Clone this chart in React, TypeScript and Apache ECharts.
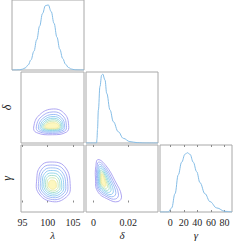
import React, { useEffect, useRef } from 'react';
import * as echarts from 'echarts';

// ---- axis ranges & tick labels ----
const lambdaRange = [94.7, 107.2];
const deltaRange = [-0.0043, 0.037];
const gammaRange = [-15, 91];
const lambdaTicks = [95, 100, 105];
const deltaTicks = [0, 0.02];
const gammaTicks = [0, 20, 40, 60, 80];
const axisNames = ['λ', 'δ', 'γ'];

// ---- 1D marginal densities (normalised) ----
const lamX = [94.7, 95.5, 96, 96.5, 97, 97.5, 98, 98.5, 99, 99.5, 100, 100.5, 101, 101.5, 102, 102.5, 103, 103.5, 104, 104.5, 105, 105.5, 106, 107.2];
const lamY = [0, 0.001, 0.004, 0.012, 0.032, 0.075, 0.155, 0.284, 0.462, 0.669, 0.859, 0.979, 0.99, 0.89, 0.71, 0.5, 0.316, 0.176, 0.087, 0.038, 0.015, 0.005, 0.0015, 0];
const delX = [-0.0043, 0.0009, 0.0018, 0.002, 0.0023, 0.0028, 0.0037, 0.0047, 0.0053, 0.0066, 0.0076, 0.0095, 0.0114, 0.0142, 0.0171, 0.0209, 0.025, 0.0295, 0.037];
const delY = [0, 0, 0, 0.06, 0.2, 0.48, 0.82, 0.986, 1.0, 0.913, 0.72, 0.478, 0.309, 0.164, 0.068, 0.02, 0.005, 0, 0];
const gamX = [-15, -2.8, 2.2, 7.1, 11.9, 16.9, 21.8, 25.2, 29.2, 34.0, 39.0, 43.9, 51.2, 58.6, 68.5, 80.7, 91];
const gamY = [0, 0, 0.069, 0.308, 0.627, 0.84, 0.973, 1.0, 0.973, 0.84, 0.68, 0.494, 0.308, 0.175, 0.069, 0.011, 0];

// ---- 2D contour rings (outer -> inner) ----
const lambdaDeltaRings = [
  [[104.16, 0.0058], [103.38, 0.0126], [101.12, 0.0155], [98.35, 0.012], [97.22, 0.005], [97.74, 0.0018], [100.95, 0.0005], [103.73, 0.0021]],
  [[103.71, 0.0057], [103.04, 0.0114], [101.1, 0.0138], [98.71, 0.0109], [97.74, 0.0051], [98.19, 0.0024], [100.95, 0.0013], [103.34, 0.0026]],
  [[103.36, 0.0056], [102.77, 0.0103], [101.08, 0.0123], [99.0, 0.0099], [98.15, 0.0051], [98.54, 0.0029], [100.95, 0.002], [103.04, 0.0031]],
  [[103.07, 0.0055], [102.55, 0.0095], [101.06, 0.0111], [99.23, 0.0091], [98.49, 0.0051], [98.83, 0.0033], [100.95, 0.0026], [102.78, 0.0035]],
  [[102.81, 0.0055], [102.36, 0.0087], [101.05, 0.0101], [99.44, 0.0084], [98.79, 0.0052], [99.09, 0.0037], [100.95, 0.003], [102.56, 0.0038]],
  [[102.59, 0.0054], [102.19, 0.0081], [101.04, 0.0092], [99.62, 0.0078], [99.05, 0.0052], [99.31, 0.004], [100.95, 0.0035], [102.37, 0.0041]],
  [[102.39, 0.0054], [102.04, 0.0075], [101.03, 0.0084], [99.78, 0.0073], [99.27, 0.0052], [99.51, 0.0042], [100.95, 0.0039], [102.2, 0.0043]],
  [[102.2, 0.0054], [101.9, 0.0069], [101.02, 0.0075], [99.94, 0.0068], [99.5, 0.0052], [99.7, 0.0045], [100.95, 0.0042], [102.03, 0.0046]],
];
const lambdaGammaRings = [
  [[104.48, 25.3], [103.38, 56.7], [100.43, 64.1], [98.52, 56.7], [97.83, 37.3], [98.17, 14.9], [100.95, 1.4], [103.73, 8.9]],
  [[104.01, 25.5], [103.06, 52.8], [100.49, 59.3], [98.83, 52.8], [98.23, 35.9], [98.52, 16.4], [100.94, 4.7], [103.36, 11.2]],
  [[103.59, 25.7], [102.76, 49.2], [100.55, 54.8], [99.11, 49.2], [98.6, 34.7], [98.85, 17.9], [100.94, 7.7], [103.02, 13.4]],
  [[103.19, 25.8], [102.49, 45.9], [100.6, 50.7], [99.38, 45.9], [98.94, 33.5], [99.15, 19.2], [100.93, 10.5], [102.71, 15.3]],
  [[102.8, 26.0], [102.21, 42.6], [100.65, 46.6], [99.64, 42.6], [99.27, 32.4], [99.45, 20.5], [100.93, 13.3], [102.4, 17.3]],
  [[102.44, 26.2], [101.97, 39.7], [100.7, 42.8], [99.88, 39.7], [99.58, 31.3], [99.73, 21.7], [100.92, 15.9], [102.12, 19.1]],
  [[102.08, 26.3], [101.72, 36.7], [100.74, 39.1], [100.11, 36.7], [99.89, 30.3], [100.0, 22.9], [100.92, 18.4], [101.83, 20.9]],
  [[101.72, 26.5], [101.47, 33.7], [100.79, 35.4], [100.35, 33.7], [100.19, 29.2], [100.27, 24.1], [100.91, 21.0], [101.55, 22.7]],
];
const deltaGammaRings = [
  [[0.00258, 67.9], [0.00717, 58.2], [0.01233, 34.3], [0.01606, 10.4], [0.01405, 1.5], [0.00831, 5.2], [0.00229, 17.9], [0.00114, 38.8], [0.00132, 56.7]],
  [[0.00299, 64.0], [0.00685, 55.5], [0.01118, 34.5], [0.01432, 13.4], [0.01263, 5.6], [0.00781, 8.9], [0.00275, 20.0], [0.00178, 38.4], [0.00193, 54.2]],
  [[0.00335, 60.5], [0.00657, 53.0], [0.01018, 34.6], [0.01279, 16.2], [0.01138, 9.4], [0.00737, 12.2], [0.00315, 22.0], [0.00235, 38.1], [0.00247, 51.9]],
  [[0.00369, 57.3], [0.00631, 50.8], [0.00925, 34.8], [0.01137, 18.8], [0.01023, 12.8], [0.00696, 15.3], [0.00352, 23.8], [0.00287, 37.8], [0.00297, 49.8]],
  [[0.004, 54.1], [0.00606, 48.6], [0.00839, 34.9], [0.01007, 21.3], [0.00916, 16.2], [0.00658, 18.4], [0.00387, 25.6], [0.00335, 37.5], [0.00343, 47.7]],
  [[0.00426, 51.2], [0.00586, 46.6], [0.00767, 35.1], [0.00898, 23.6], [0.00827, 19.3], [0.00626, 21.1], [0.00416, 27.2], [0.00375, 37.2], [0.00382, 45.8]],
  [[0.00449, 48.3], [0.00568, 44.5], [0.00702, 35.2], [0.00799, 25.9], [0.00747, 22.4], [0.00598, 23.9], [0.00441, 28.8], [0.00411, 37.0], [0.00416, 44.0]],
  [[0.0047, 45.4], [0.00552, 42.5], [0.00645, 35.3], [0.00712, 28.2], [0.00676, 25.5], [0.00573, 26.6], [0.00464, 30.4], [0.00444, 36.7], [0.00447, 42.1]],
];
const ringColors = ['#a59cf0', '#9ea7f5', '#94b7f5', '#8bc7f0', '#8ad3e6', '#a0dcca', '#c8e6ae', '#efe9a0'];
const lineColor = '#85bde6';

const FONT = "'Liberation Serif', 'DejaVu Serif', serif";
const COLS = [12, 86, 160];
const ROWS = [-1, 72, 145];
const W = 72;
const H = 71;

function App() {
  const ref = useRef<HTMLDivElement>(null);
  useEffect(() => {
    if (!ref.current) return;
    const chart = echarts.init(ref.current, null, { renderer: 'svg' });
    const cells = [
      [0, 0], [1, 0], [1, 1], [2, 0], [2, 1], [2, 2],
    ];
    const grid = cells.map(([r, c]) => ({
      left: COLS[c], top: ROWS[r], width: W, height: H,
      show: true, borderColor: '#a8a8a8', borderWidth: 1, backgroundColor: 'transparent',
      containLabel: false,
    }));
    const ranges = [lambdaRange, deltaRange, gammaRange];
    const ticks = [lambdaTicks, deltaTicks, gammaTicks];
    const densMax = [1.065, 1.03, 1.13];
    const xAxis: any[] = [];
    const yAxis: any[] = [];
    cells.forEach(([r, c], gi) => {
      const bottom = r === 2;
      xAxis.push({
        type: 'value', gridIndex: gi, min: ranges[c][0], max: ranges[c][1],
        axisLine: { show: false }, splitLine: { show: false },
        axisTick: { show: bottom, inside: true, length: 2, customValues: ticks[c], lineStyle: { color: '#8a8a8a' } },
        axisLabel: { show: bottom, customValues: ticks[c], fontSize: 10, color: '#262626', fontFamily: FONT, margin: 5, hideOverlap: false },
        name: bottom ? axisNames[c] : '', nameLocation: 'middle', nameGap: 17,
        nameTextStyle: { fontSize: 11, fontStyle: 'italic', color: '#262626', fontFamily: FONT },
      });
      if (r === c) {
        yAxis.push({
          type: 'value', gridIndex: gi, min: 0, max: densMax[c], show: false,
          splitLine: { show: false },
        });
      } else {
        yAxis.push({
          type: 'value', gridIndex: gi, min: ranges[r][0], max: ranges[r][1],
          axisLine: { show: false }, splitLine: { show: false }, axisTick: { show: false },
          axisLabel: { show: false },
          name: c === 0 ? axisNames[r] : '', nameLocation: 'middle', nameGap: 8, nameRotate: 90,
          nameTextStyle: { fontSize: 12, fontStyle: 'italic', color: '#262626', fontFamily: FONT },
        });
      }
    });
    // mirrored top ticks on bottom row
    [3, 4, 5].forEach((gi) => {
      const c = cells[gi][1];
      xAxis.push({
        type: 'value', gridIndex: gi, position: 'top', min: ranges[c][0], max: ranges[c][1],
        axisLine: { show: false }, splitLine: { show: false }, axisLabel: { show: false },
        axisTick: { show: true, inside: true, length: 2, customValues: ticks[c], lineStyle: { color: '#8a8a8a' } },
      });
    });

    const lineSeries = (xs: number[], ys: number[], gi: number) => ({
      type: 'line', xAxisIndex: gi, yAxisIndex: gi, data: xs.map((x, i) => [x, ys[i]]),
      symbol: 'none', smooth: 0.4, smoothMonotone: 'x', silent: true,
      lineStyle: { color: lineColor, width: 1 },
    });
    const contour = (rings: number[][][], gi: number) => ({
      type: 'custom', xAxisIndex: gi, yAxisIndex: gi, silent: true,
      data: rings.map((ring, i) => [ring[0][0], ring[0][1], i]),
      encode: { x: 0, y: 1 },
      renderItem: (params: any, api: any) => {
        const i = api.value(2);
        const pts = rings[i].map((p) => api.coord(p));
        return {
          type: 'polygon',
          shape: { points: pts, smooth: 0.45 },
          style: {
            fill: i === rings.length - 1 ? 'rgba(252,244,170,0.75)' : 'none',
            stroke: ringColors[i], lineWidth: 0.9,
          },
        };
      },
    });

    chart.setOption({
      animation: false,
      grid, xAxis, yAxis,
      series: [
        lineSeries(lamX, lamY, 0),
        contour(lambdaDeltaRings, 1),
        lineSeries(delX, delY, 2),
        contour(lambdaGammaRings, 3),
        contour(deltaGammaRings, 4),
        lineSeries(gamX, gamY, 5),
      ],
    });
    return () => chart.dispose();
  }, []);
  return <div ref={ref} style={{ position: 'fixed', left: 0, top: 0, width: 240, height: 241, background: '#fff' }} />;
}

export default App;
